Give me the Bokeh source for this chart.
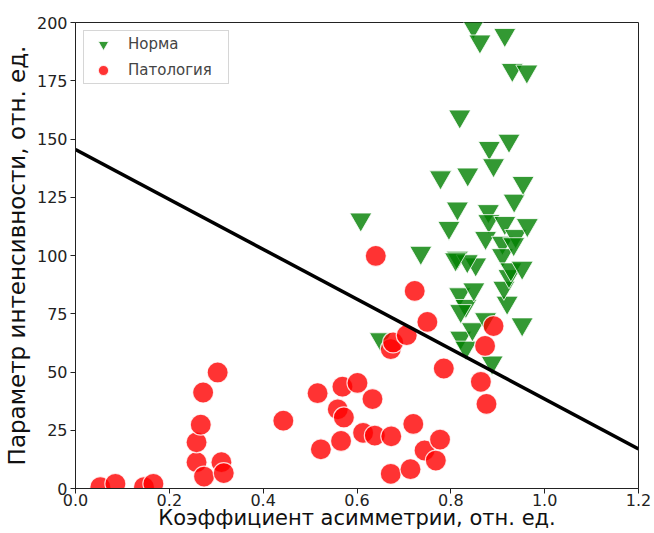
from bokeh.plotting import figure
from bokeh.models import Legend, LegendItem, FixedTicker, NumeralTickFormatter, Range1d
from bokeh.embed import file_html
from bokeh.resources import INLINE

# Норма (green triangles)
norm_x = [0.608, 0.736, 0.778, 0.796, 0.819, 0.814, 0.836, 0.814, 0.819, 0.832, 0.821, 0.821,
          0.832, 0.846, 0.849, 0.853, 0.835, 0.874, 0.882, 0.891, 0.880, 0.881, 0.874, 0.888,
          0.910, 0.915, 0.910, 0.920, 0.913, 0.924, 0.928, 0.924, 0.935, 0.938, 0.954, 0.963,
          0.952, 0.952, 0.848, 0.862, 0.915, 0.931, 0.962, 0.810, 0.650, 0.934]
norm_y = [115.5, 101.2, 133.6, 111.9, 159.7, 120.2, 134.8, 99.1, 83.4, 78.4, 76.2, 64.8,
          60.5, 68.4, 85.5, 96.2, 97.6, 72.7, 146.2, 138.8, 119.1, 114.8, 107.6, 54.1,
          105.5, 114.0, 100.2, 79.8, 86.2, 91.2, 94.1, 149.3, 123.6, 108.4, 131.2, 113.1,
          94.8, 70.5, 198.3, 191.9, 194.7, 179.7, 179.0, 98.4, 64.1, 104.9]

# Патология (red circles)
pat_x = [0.053, 0.085, 0.146, 0.166, 0.258, 0.274, 0.258, 0.267, 0.272, 0.303, 0.311, 0.316,
         0.443, 0.516, 0.523, 0.566, 0.569, 0.559, 0.572, 0.601, 0.613, 0.633, 0.638, 0.640,
         0.673, 0.672, 0.672, 0.677, 0.706, 0.720, 0.714, 0.723, 0.744, 0.750, 0.768, 0.777,
         0.785, 0.864, 0.876, 0.873, 0.891]
pat_y = [0.6, 2.0, 0.6, 2.0, 11.3, 5.1, 19.8, 27.4, 41.2, 49.8, 11.3, 6.6,
         29.1, 40.9, 16.8, 20.4, 43.7, 34.0, 30.5, 45.3, 23.9, 38.4, 22.7, 99.8,
         22.4, 6.3, 59.8, 62.7, 65.8, 27.7, 8.3, 84.8, 16.3, 71.5, 12.0, 21.0,
         51.5, 45.8, 36.3, 61.2, 69.7]

# Decision line
line_x = [0.0, 1.2]
line_y = [145.5, 17.0]

x_ticks = [0.0, 0.2, 0.4, 0.6, 0.8, 1.0, 1.2]
y_ticks = [0, 25, 50, 75, 100, 125, 150, 175, 200]

FONT = "DejaVu Sans"

p = figure(width=654, height=533, output_backend="svg", toolbar_location=None,
           x_range=Range1d(0, 1.2), y_range=Range1d(0, 200),
           min_border_left=75, min_border_right=16, min_border_top=22, min_border_bottom=45)
p.xgrid.visible = False
p.ygrid.visible = False
p.outline_line_color = "#222222"
p.outline_line_width = 1

g = p.scatter(norm_x, norm_y, marker="inverted_triangle", size=22, fill_color="green",
              fill_alpha=0.8, line_color="white", line_alpha=0.8, line_width=1)
r = p.scatter(pat_x, pat_y, marker="circle", size=21, fill_color="red",
              fill_alpha=0.8, line_color="white", line_alpha=0.8, line_width=1.2)
p.line(line_x, line_y, line_color="black", line_width=3.5)

for ax in (p.xaxis[0], p.yaxis[0]):
    ax.major_label_text_font = FONT
    ax.major_label_text_font_size = "16px"
    ax.major_label_text_color = "#222222"
    ax.axis_label_text_font = FONT
    ax.axis_label_text_font_style = "normal"
    ax.axis_label_text_color = "#111111"
    ax.minor_tick_line_color = None
    ax.major_tick_out = 5
    ax.major_tick_in = 0
    ax.axis_line_color = "#222222"
    ax.major_tick_line_color = "#222222"

p.xaxis[0].ticker = FixedTicker(ticks=x_ticks)
p.xaxis[0].formatter = NumeralTickFormatter(format="0.0")
p.xaxis[0].axis_label = "Коэффициент асимметрии, отн. ед."
p.xaxis[0].axis_label_text_font_size = "21px"
p.xaxis[0].axis_label_standoff = -3
p.xaxis[0].major_label_standoff = 0
p.yaxis[0].ticker = FixedTicker(ticks=y_ticks)
p.yaxis[0].axis_label = "Параметр интенсивности, отн. ед."
p.yaxis[0].axis_label_text_font_size = "23px"
p.yaxis[0].axis_label_standoff = 4
p.yaxis[0].major_label_standoff = 3

legend = Legend(items=[LegendItem(label="Норма", renderers=[g]),
                       LegendItem(label="Патология", renderers=[r])],
                location="top_left")
legend.label_text_font = FONT
legend.label_text_font_size = "15px"
legend.border_line_color = "#cccccc"
legend.border_line_alpha = 0.8
legend.background_fill_alpha = 0.8
legend.glyph_width = 38
legend.glyph_height = 26
legend.spacing = 0
legend.padding = 0
legend.margin = 8
legend.label_standoff = 6
legend.label_width = 100
p.add_layout(legend)

open("out.html", "w").write(file_html(p, INLINE))
